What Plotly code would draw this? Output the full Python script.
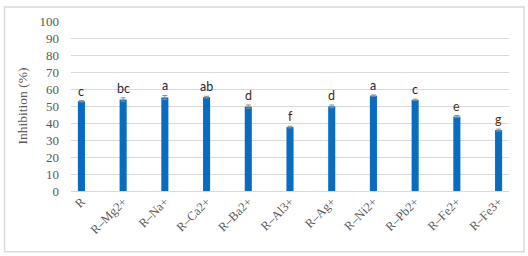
import plotly.graph_objects as go

categories = ["R", "R\u2013Mg2+", "R\u2013Na+", "R\u2013Ca2+", "R\u2013Ba2+", "R\u2013Al3+",
              "R\u2013Ag+", "R\u2013Ni2+", "R\u2013Pb2+", "R\u2013Fe2+", "R\u2013Fe3+"]
values = [52.8, 53.8, 55.0, 55.2, 49.6, 37.6, 49.8, 56.1, 53.6, 43.8, 35.8]
errors = [0.4, 1.0, 1.2, 0.5, 1.0, 0.5, 0.8, 0.4, 0.4, 0.6, 0.6]
letters = ["c", "bc", "a", "ab", "d", "f", "d", "a", "c", "e", "g"]
letter_colors = ["#1e1e3a", "#1e1e3a", "#1e1e3a", "#1e1e3a", "#3d2c10", "#5a0f1e",
                 "#3d2c10", "#1e1e3a", "#1e1e3a", "#5a3206", "#5a3206"]
y_ticks = [0, 10, 20, 30, 40, 50, 60, 70, 80, 90, 100]

W, H = 528, 256
L, R_, T, B = 71, 19, 20.5, 65

fig = go.Figure()
fig.add_trace(go.Bar(
    x=categories, y=values,
    marker=dict(color="#0A6CC0", line=dict(width=0)),
    width=0.17,
    error_y=dict(type="data", array=errors, color="#8c8c8c", thickness=1, width=2.5),
))

for c, v, e, t, col in zip(categories, values, errors, letters, letter_colors):
    fig.add_annotation(x=c, y=v + e, text=t, showarrow=False, yanchor="bottom",
                       yshift=0, font=dict(family="Lato, Open Sans, sans-serif", size=12.5, color=col))

pw = W - L - R_
ph = H - T - B
def px(x):
    return (x - L) / pw
def py(y):
    return (H - B - y) / ph

fig.add_shape(type="rect", xref="paper", yref="paper",
              x0=px(4.5), x1=px(524), y0=py(6.5), y1=py(252),
              line=dict(color="#D9D9D9", width=1.5), fillcolor="rgba(0,0,0,0)", layer="below")

fig.update_layout(
    width=W, height=H, autosize=False,
    margin=dict(l=L, r=R_, t=T, b=B, autoexpand=False),
    paper_bgcolor="white", plot_bgcolor="white",
    showlegend=False,
    font=dict(family="Liberation Serif, Times New Roman, serif", size=13, color="#595959"),
    xaxis=dict(range=[-0.25, 10.25], tickangle=-45, showgrid=False, showline=False,
               ticks="", automargin=False, tickfont=dict(size=12.5, color="#595959")),
    yaxis=dict(range=[0, 100], tickvals=y_ticks, showgrid=True, gridcolor="#D9D9D9",
               gridwidth=1, zeroline=True, zerolinecolor="#D9D9D9", zerolinewidth=1,
               showline=False, ticks="", ticklabelstandoff=11, automargin=False,
               tickfont=dict(size=13, color="#595959"),
               title=dict(text="Inhibition (%)", standoff=8,
                          font=dict(size=13.5, color="#595959"))),
)

fig.write_html("out.html", config={"responsive": False, "displayModeBar": False})

with open("out.html", "r", encoding="utf-8") as f:
    html = f.read()
html = html.replace("<head>", "<head><style>html,body{margin:0;padding:0;overflow:hidden;}</style>", 1)
with open("out.html", "w", encoding="utf-8") as f:
    f.write(html)
